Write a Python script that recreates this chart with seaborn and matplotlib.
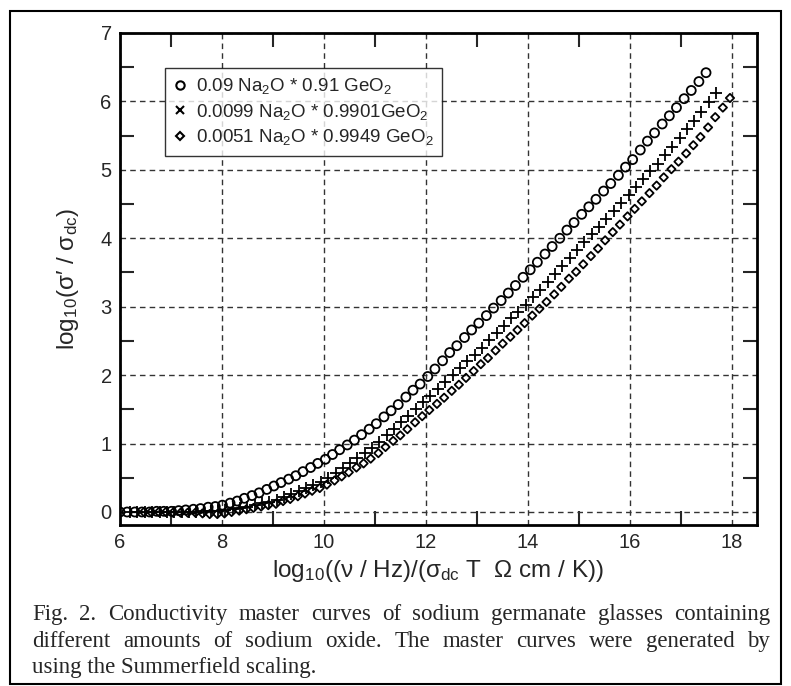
# -*- coding: utf-8 -*-
# master curves sigma'/sigma_dc vs scaled frequency, sodium germanate glasses
import numpy as np
import matplotlib
matplotlib.use("Agg")
import matplotlib.pyplot as plt
from matplotlib.lines import Line2D
from matplotlib.patches import Rectangle
import seaborn as sns

sns.set_style("white")
plt.rcParams['font.family'] = ['Liberation Sans', 'DejaVu Sans']
plt.rcParams['mathtext.fontset'] = 'custom'
plt.rcParams['mathtext.rm'] = 'Liberation Sans'
plt.rcParams['mathtext.it'] = 'Liberation Sans:italic'

# ---- data ----
# 0.09 Na2O * 0.91 GeO2 (circles)
x_a = [6.00, 6.14, 6.29, 6.43, 6.58, 6.72, 6.86, 7.01, 7.15, 7.29, 7.44, 7.58, 7.73, 7.87,
       8.01, 8.16, 8.30, 8.44, 8.59, 8.73, 8.88, 9.02, 9.16, 9.31, 9.45, 9.59, 9.74, 9.88,
       10.03, 10.17, 10.31, 10.46, 10.60, 10.74, 10.89, 11.03, 11.18, 11.32, 11.46, 11.61,
       11.75, 11.89, 12.04, 12.18, 12.33, 12.47, 12.61, 12.76, 12.90, 13.04, 13.19, 13.33,
       13.48, 13.62, 13.76, 13.91, 14.05, 14.19, 14.34, 14.48, 14.63, 14.77, 14.91, 15.06,
       15.20, 15.34, 15.49, 15.63, 15.78, 15.92, 16.06, 16.21, 16.35, 16.49, 16.64, 16.78,
       16.92, 17.07, 17.21, 17.36, 17.50]
y_a = [0.00, 0.00, 0.00, 0.00, 0.00, 0.01, 0.01, 0.01, 0.02, 0.03, 0.04, 0.05, 0.07, 0.08,
       0.10, 0.13, 0.16, 0.20, 0.24, 0.28, 0.33, 0.38, 0.43, 0.48, 0.53, 0.59, 0.65, 0.71,
       0.77, 0.84, 0.91, 0.98, 1.05, 1.13, 1.21, 1.29, 1.39, 1.48, 1.57, 1.68,
       1.78, 1.87, 1.98, 2.09, 2.21, 2.33, 2.43, 2.55, 2.66, 2.76, 2.87, 2.98,
       3.09, 3.20, 3.31, 3.43, 3.54, 3.65, 3.77, 3.88, 4.00, 4.12, 4.23, 4.35,
       4.46, 4.57, 4.69, 4.80, 4.92, 5.04, 5.15, 5.29, 5.42, 5.54, 5.67, 5.79,
       5.91, 6.04, 6.16, 6.29, 6.42]

# 0.0099 Na2O * 0.9901 GeO2 (crosses)
x_b = [6.20, 6.34, 6.49, 6.63, 6.78, 6.92, 7.06, 7.21, 7.35, 7.49, 7.64, 7.78, 7.93, 8.07,
       8.21, 8.36, 8.50, 8.64, 8.79, 8.93, 9.08, 9.22, 9.36, 9.51, 9.65, 9.79, 9.94, 10.08,
       10.23, 10.37, 10.51, 10.66, 10.80, 10.94, 11.09, 11.23, 11.38, 11.52, 11.66, 11.81,
       11.95, 12.09, 12.24, 12.38, 12.53, 12.67, 12.81, 12.96, 13.10, 13.24, 13.39, 13.53,
       13.68, 13.82, 13.96, 14.11, 14.25, 14.39, 14.54, 14.68, 14.83, 14.97, 15.11, 15.26,
       15.40, 15.54, 15.69, 15.83, 15.98, 16.12, 16.26, 16.41, 16.55, 16.69, 16.84, 16.98,
       17.13, 17.27, 17.41, 17.56, 17.70]
y_b = [0.00, 0.00, 0.00, 0.00, 0.00, 0.00, 0.00, 0.00, 0.00, 0.00, 0.01, 0.01, 0.02, 0.03,
       0.05, 0.06, 0.08, 0.10, 0.13, 0.15, 0.18, 0.22, 0.26, 0.30, 0.35, 0.39, 0.44, 0.50,
       0.57, 0.64, 0.71, 0.79, 0.86, 0.94, 1.03, 1.12, 1.22, 1.31, 1.41, 1.51,
       1.61, 1.70, 1.80, 1.90, 2.00, 2.10, 2.20, 2.30, 2.40, 2.51, 2.62, 2.72,
       2.83, 2.92, 3.02, 3.14, 3.25, 3.36, 3.48, 3.59, 3.71, 3.83, 3.94, 4.06,
       4.17, 4.28, 4.40, 4.51, 4.63, 4.75, 4.86, 4.98, 5.09, 5.21, 5.34, 5.46,
       5.60, 5.72, 5.85, 5.99, 6.13]

# 0.0051 Na2O * 0.9949 GeO2 (diamonds)
x_c = [6.47, 6.61, 6.76, 6.90, 7.04, 7.19, 7.33, 7.48, 7.62, 7.76, 7.91, 8.05, 8.19, 8.34,
       8.48, 8.62, 8.77, 8.91, 9.06, 9.20, 9.34, 9.49, 9.63, 9.77, 9.92, 10.06, 10.21, 10.35,
       10.49, 10.64, 10.78, 10.92, 11.07, 11.21, 11.36, 11.50, 11.64, 11.79, 11.93, 12.07,
       12.22, 12.36, 12.51, 12.65, 12.79, 12.94, 13.08, 13.22, 13.37, 13.51, 13.66, 13.80,
       13.94, 14.09, 14.23, 14.37, 14.52, 14.66, 14.81, 14.95, 15.09, 15.24, 15.38, 15.52,
       15.67, 15.81, 15.96, 16.10, 16.24, 16.39, 16.53, 16.67, 16.82, 16.96, 17.11, 17.25,
       17.39, 17.54, 17.68, 17.83, 17.97]
y_c = [0.00, 0.00, 0.00, 0.00, -0.01, -0.01, -0.01, -0.01, -0.02, -0.03, -0.03, -0.02, 0.00, 0.02,
       0.04, 0.06, 0.08, 0.10, 0.12, 0.16, 0.19, 0.23, 0.27, 0.31, 0.35, 0.40, 0.46, 0.52,
       0.58, 0.65, 0.71, 0.78, 0.86, 0.95, 1.04, 1.12, 1.21, 1.31, 1.40, 1.49,
       1.58, 1.67, 1.77, 1.86, 1.96, 2.06, 2.16, 2.25, 2.36, 2.46, 2.56, 2.66,
       2.76, 2.87, 2.97, 3.07, 3.18, 3.29, 3.41, 3.51, 3.62, 3.74, 3.85, 3.97,
       4.09, 4.20, 4.32, 4.43, 4.54, 4.66, 4.77, 4.89, 5.01, 5.12, 5.24, 5.36,
       5.48, 5.62, 5.77, 5.91, 6.05]

labels = ['0.09 Na$_2$O * 0.91 GeO$_2$',
          '0.0099 Na$_2$O * 0.9901GeO$_2$',
          '0.0051 Na$_2$O * 0.9949 GeO$_2$']

caption = ["Fig. 2. Conductivity master curves of sodium germanate glasses containing",
           "different amounts of sodium oxide. The master curves were generated by",
           "using the Summerfield scaling."]

# ---- figure ----
fig = plt.figure(figsize=(7.91, 6.86), dpi=100)
ax = fig.add_axes([0.1517, 0.2347, 0.8053, 0.7172])

sns.scatterplot(x=x_a, y=y_a, marker='o', s=42, facecolors='none', edgecolor='black',
                linewidth=1.3, ax=ax, zorder=3)
sns.scatterplot(x=x_b, y=y_b, marker='+', s=75, color='black', linewidth=1.3, ax=ax, zorder=3)
sns.scatterplot(x=x_c, y=y_c, marker='D', s=18, facecolors='none', edgecolor='black',
                linewidth=1.3, ax=ax, zorder=3)

ax.set_xlim(6, 18.5)
ax.set_ylim(-0.19, 7)
ax.set_xticks(np.arange(6, 19, 2))
ax.set_xticks(np.arange(7, 19, 2), minor=True)
ax.set_yticks(np.arange(0, 8, 1))
ax.set_yticks(np.arange(0.5, 7, 1), minor=True)
ax.grid(True, which='major', color='#333333', linestyle=(0, (4, 3)), linewidth=1.0)
ax.tick_params(which='major', length=0, labelsize=14.5, pad=6)
ax.tick_params(which='minor', direction='in', length=10, width=1.5,
               top=True, right=True, bottom=True, left=True)
for sp in ax.spines.values():
    sp.set_linewidth(2)
    sp.set_color('black')

ax.set_xlabel('log$_{10}$((ν / Hz)/(σ$_{\\mathrm{dc}}$ T  Ω cm / K))', fontsize=17.5, labelpad=4)
ax.set_ylabel('log$_{10}$(σ′ / σ$_{\\mathrm{dc}}$)', fontsize=17.5, labelpad=14)

# legend shows an x for the crosses, as in the original
handles = [Line2D([], [], marker='o', ls='', mfc='none', mec='black', mew=1.5, ms=6),
           Line2D([], [], marker='x', ls='', color='black', mew=1.5, ms=5.5),
           Line2D([], [], marker='D', ls='', mfc='none', mec='black', mew=1.5, ms=4.5)]
leg = ax.legend(handles, labels, loc='upper left', bbox_to_anchor=(0.0706, 0.9295),
                borderaxespad=0, fontsize=13.5, frameon=True, fancybox=False,
                edgecolor='black', handlelength=0.7, handletextpad=0.5,
                borderpad=0.45, labelspacing=0.3)
leg.get_frame().set_linewidth(1.0)

# outer frame of the figure panel
fig.patches.append(Rectangle((10 / 791, 1 - 684 / 686), 771 / 791, 673 / 686,
                             transform=fig.transFigure, fill=False,
                             edgecolor='black', linewidth=1.5))

# justified caption
fig.canvas.draw()
r = fig.canvas.get_renderer()
x0, x1 = 32 / 791, 770 / 791
ys = [1 - 620 / 686, 1 - 647 / 686, 1 - 673 / 686]
cap_size = 16.5
for i, line in enumerate(caption):
    if i == len(caption) - 1:
        fig.text(x0, ys[i], line, family='Liberation Serif', fontsize=cap_size, va='baseline')
        continue
    words = line.split(' ')
    ts = [fig.text(0, ys[i], w, family='Liberation Serif', fontsize=cap_size, va='baseline')
          for w in words]
    ws = [t.get_window_extent(r).width / fig.bbox.width for t in ts]
    gap = (x1 - x0 - sum(ws)) / (len(words) - 1)
    pos = x0
    for t, w in zip(ts, ws):
        t.set_x(pos)
        pos += w + gap

fig.savefig('out.png', dpi=100)
